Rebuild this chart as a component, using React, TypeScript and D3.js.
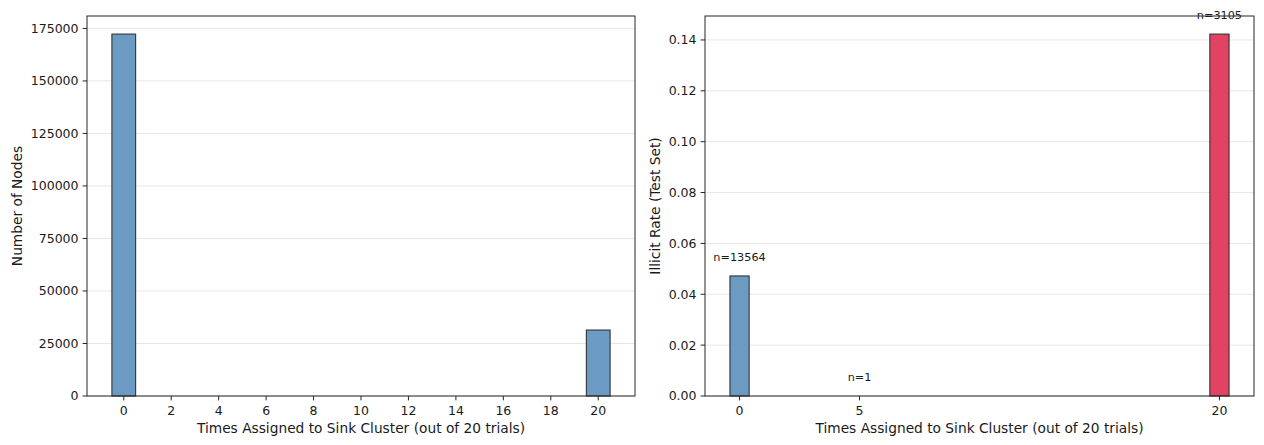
import React from "react";
import * as d3 from "d3";

const countCats = [0, 20];
const countValues = [172300, 31400];
const countTicksX = [0, 2, 4, 6, 8, 10, 12, 14, 16, 18, 20];
const countTicksY = [0, 25000, 50000, 75000, 100000, 125000, 150000, 175000];

const rateCats = [0, 5, 20];
const rateValues = [0.0472, 0.0, 0.1423];
const rateN = [13564, 1, 3105];
const rateColors = ["blue", "blue", "red"];
const rateTicksX = [0, 5, 20];
const rateTicksY = [0, 0.02, 0.04, 0.06, 0.08, 0.1, 0.12, 0.14];

const FONT = "DejaVu Sans, sans-serif";
const BLUE = "#6b9bc3";
const RED = "#e34363";
const EDGE = "#333333";
const SPINE = "#262626";

type PanelProps = {
  left: number;
  right: number;
  top: number;
  bottom: number;
  xDomain: [number, number];
  yDomain: [number, number];
  xTicks: number[];
  yTicks: number[];
  yFmt: (v: number) => string;
  ylabel: string;
  ylabelX: number;
  children: (x: d3.ScaleLinear<number, number>, y: d3.ScaleLinear<number, number>) => React.ReactNode;
};

function Panel(p: PanelProps) {
  const x = d3.scaleLinear().domain(p.xDomain).range([p.left, p.right]);
  const y = d3.scaleLinear().domain(p.yDomain).range([p.bottom, p.top]);
  return (
    <g>
      {p.yTicks.map((t) => (
        <line key={"g" + t} x1={p.left} x2={p.right} y1={y(t)} y2={y(t)} stroke="#b0b0b0" strokeOpacity={0.3} strokeWidth={1} />
      ))}
      {p.children(x, y)}
      <rect x={p.left} y={p.top} width={p.right - p.left} height={p.bottom - p.top} fill="none" stroke={SPINE} strokeWidth={1} />
      {p.yTicks.map((t) => (
        <g key={"y" + t}>
          <line x1={p.left - 4.4} x2={p.left} y1={y(t)} y2={y(t)} stroke={SPINE} strokeWidth={1} />
          <text x={p.left - 8.5} y={y(t)} dy="0.35em" textAnchor="end" fontSize={12.5} fontFamily={FONT} fill="#1a1a1a">
            {p.yFmt(t)}
          </text>
        </g>
      ))}
      {p.xTicks.map((t) => (
        <g key={"x" + t}>
          <line x1={x(t)} x2={x(t)} y1={p.bottom} y2={p.bottom + 4.4} stroke={SPINE} strokeWidth={1} />
          <text x={x(t)} y={p.bottom + 9} dy="0.8em" textAnchor="middle" fontSize={12.5} fontFamily={FONT} fill="#1a1a1a">
            {t}
          </text>
        </g>
      ))}
      <text x={(p.left + p.right) / 2} y={433} textAnchor="middle" fontSize={13.75} fontFamily={FONT} fill="#1a1a1a">
        Times Assigned to Sink Cluster (out of 20 trials)
      </text>
      <text
        transform={`translate(${p.ylabelX},${(p.top + p.bottom) / 2}) rotate(-90)`}
        textAnchor="middle"
        fontSize={13.75}
        fontFamily={FONT}
        fill="#1a1a1a"
      >
        {p.ylabel}
      </text>
    </g>
  );
}

export default function App() {
  return (
    <svg width={1264} height={445} style={{ position: "absolute", left: 0, top: 0, background: "#fff" }}>
      <rect width={1264} height={445} fill="#fff" />
      <Panel
        left={87}
        right={635}
        top={16}
        bottom={396}
        xDomain={[-1.55, 21.55]}
        yDomain={[0, d3.max(countValues)! * 1.05]}
        xTicks={countTicksX}
        yTicks={countTicksY}
        yFmt={(v) => String(v)}
        ylabel="Number of Nodes"
        ylabelX={22}
      >
        {(x, y) =>
          countCats.map((c, i) => (
            <rect
              key={c}
              x={x(c - 0.5)}
              y={y(countValues[i])}
              width={x(c + 0.5) - x(c - 0.5)}
              height={y(0) - y(countValues[i])}
              fill={BLUE}
              stroke={EDGE}
              strokeWidth={1.1}
            />
          ))
        }
      </Panel>
      <Panel
        left={705}
        right={1254}
        top={16}
        bottom={396}
        xDomain={[-1.44, 21.44]}
        yDomain={[0, d3.max(rateValues)! * 1.05]}
        xTicks={rateTicksX}
        yTicks={rateTicksY}
        yFmt={(v) => v.toFixed(2)}
        ylabel="Illicit Rate (Test Set)"
        ylabelX={660}
      >
        {(x, y) =>
          rateCats.map((c, i) => (
            <g key={c}>
              <rect
                x={x(c - 0.4)}
                y={y(rateValues[i])}
                width={x(c + 0.4) - x(c - 0.4)}
                height={y(0) - y(rateValues[i])}
                fill={rateColors[i] === "red" ? RED : BLUE}
                stroke={EDGE}
                strokeWidth={1.1}
              />
              <text
                x={x(c)}
                y={y(rateValues[i] + 0.005) - 2}
                textAnchor="middle"
                fontSize={11.25}
                fontFamily={FONT}
                fill="#1a1a1a"
              >
                {"n=" + rateN[i]}
              </text>
            </g>
          ))
        }
      </Panel>
    </svg>
  );
}
